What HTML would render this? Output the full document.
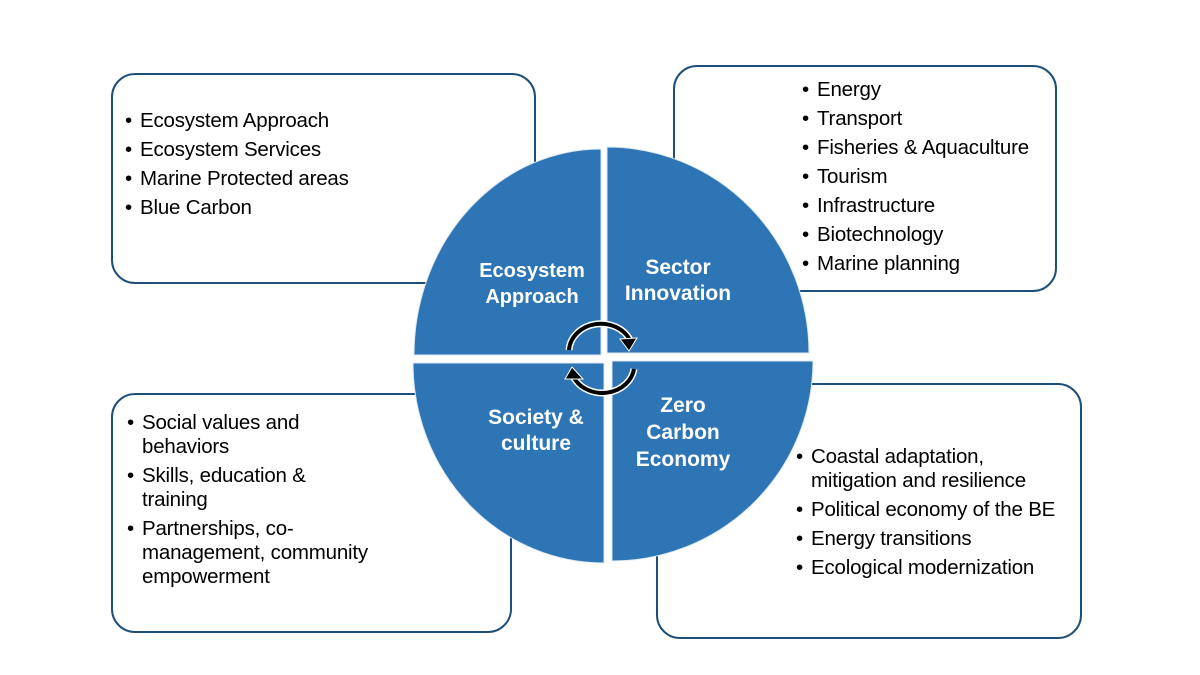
<!DOCTYPE html>
<html><head><meta charset="utf-8"><style>
body{margin:0;background:#fff;width:1200px;height:675px;overflow:hidden;position:relative;font-family:"Liberation Sans",sans-serif}
.box{position:absolute;border:2.5px solid #1f4e79;border-radius:24px;background:#fff;box-sizing:border-box}
.t{position:absolute;font-size:20.5px;color:#000;white-space:nowrap;line-height:24px;letter-spacing:-0.2px}
.t div{position:relative;padding-left:15px}
.t div::before{content:"•";position:absolute;left:0}
svg{position:absolute;left:0;top:0}
.lab{position:absolute;color:#fff;font-weight:bold;font-size:20px;text-align:center;line-height:26px;white-space:nowrap}
</style></head><body>
<div class="box" style="left:111px;top:73px;width:425px;height:211px"></div>
<div class="box" style="left:673px;top:65px;width:384px;height:227px"></div>
<div class="box" style="left:111px;top:393px;width:401px;height:240px"></div>
<div class="box" style="left:656px;top:383px;width:426px;height:256px"></div>

<div class="t" style="left:125px;top:106px;line-height:29px"><div>Ecosystem Approach</div><div>Ecosystem Services</div><div>Marine Protected areas</div><div>Blue Carbon</div></div>
<div class="t" style="left:802px;top:75px;line-height:29px"><div>Energy</div><div>Transport</div><div>Fisheries &amp; Aquaculture</div><div>Tourism</div><div>Infrastructure</div><div>Biotechnology</div><div>Marine planning</div></div>
<div class="t" style="left:127px;top:411px"><div>Social values and<br>behaviors</div><div style="margin-top:5px">Skills, education &amp;<br>training</div><div style="margin-top:5px">Partnerships, co-<br>management, community<br>empowerment</div></div>
<div class="t" style="left:796px;top:445px"><div>Coastal adaptation,<br>mitigation and resilience</div><div style="margin-top:5px">Political economy of the BE</div><div style="margin-top:5px">Energy transitions</div><div style="margin-top:5px">Ecological modernization</div></div>

<svg width="1200" height="675">
<g fill="#2e75b6" stroke="#dce8f5" stroke-width="1">
<path d="M601,355 L414,355 A187,206 0 0 1 601,149 Z"/>
<path d="M607,353 L607,147 A202,206 0 0 1 809,353 Z"/>
<path d="M604,363 L604,563 A191,200 0 0 1 413,363 Z"/>
<path d="M612,361 L813,361 A201,200 0 0 1 612,561 Z"/>
</g>
<g fill="none" stroke-linecap="butt">
<path d="M569,350 A32,28 0 0 1 630,340" stroke="#fff" stroke-width="7"/>
<path d="M569,350 A32,28 0 0 1 630,340" stroke="#000" stroke-width="4"/>
<path d="M634,369 A32,28 0 0 1 574,378" stroke="#fff" stroke-width="7"/>
<path d="M634,369 A32,28 0 0 1 574,378" stroke="#000" stroke-width="4"/>
</g>
<polygon points="620,339 637,338 629,351" fill="#000" stroke="#fff" stroke-width="1"/>
<polygon points="583,379 565,379 572,367" fill="#000" stroke="#fff" stroke-width="1"/>
</svg>
<div class="lab" style="left:472px;top:258px;width:120px">Ecosystem<br>Approach</div>
<div class="lab" style="left:618px;top:255px;width:120px;font-size:21px">Sector<br>Innovation</div>
<div class="lab" style="left:476px;top:405px;width:120px;font-size:21px">Society &amp;<br>culture</div>
<div class="lab" style="left:623px;top:392px;width:120px;font-size:21px;line-height:27px">Zero<br>Carbon<br>Economy</div>
</body></html>
